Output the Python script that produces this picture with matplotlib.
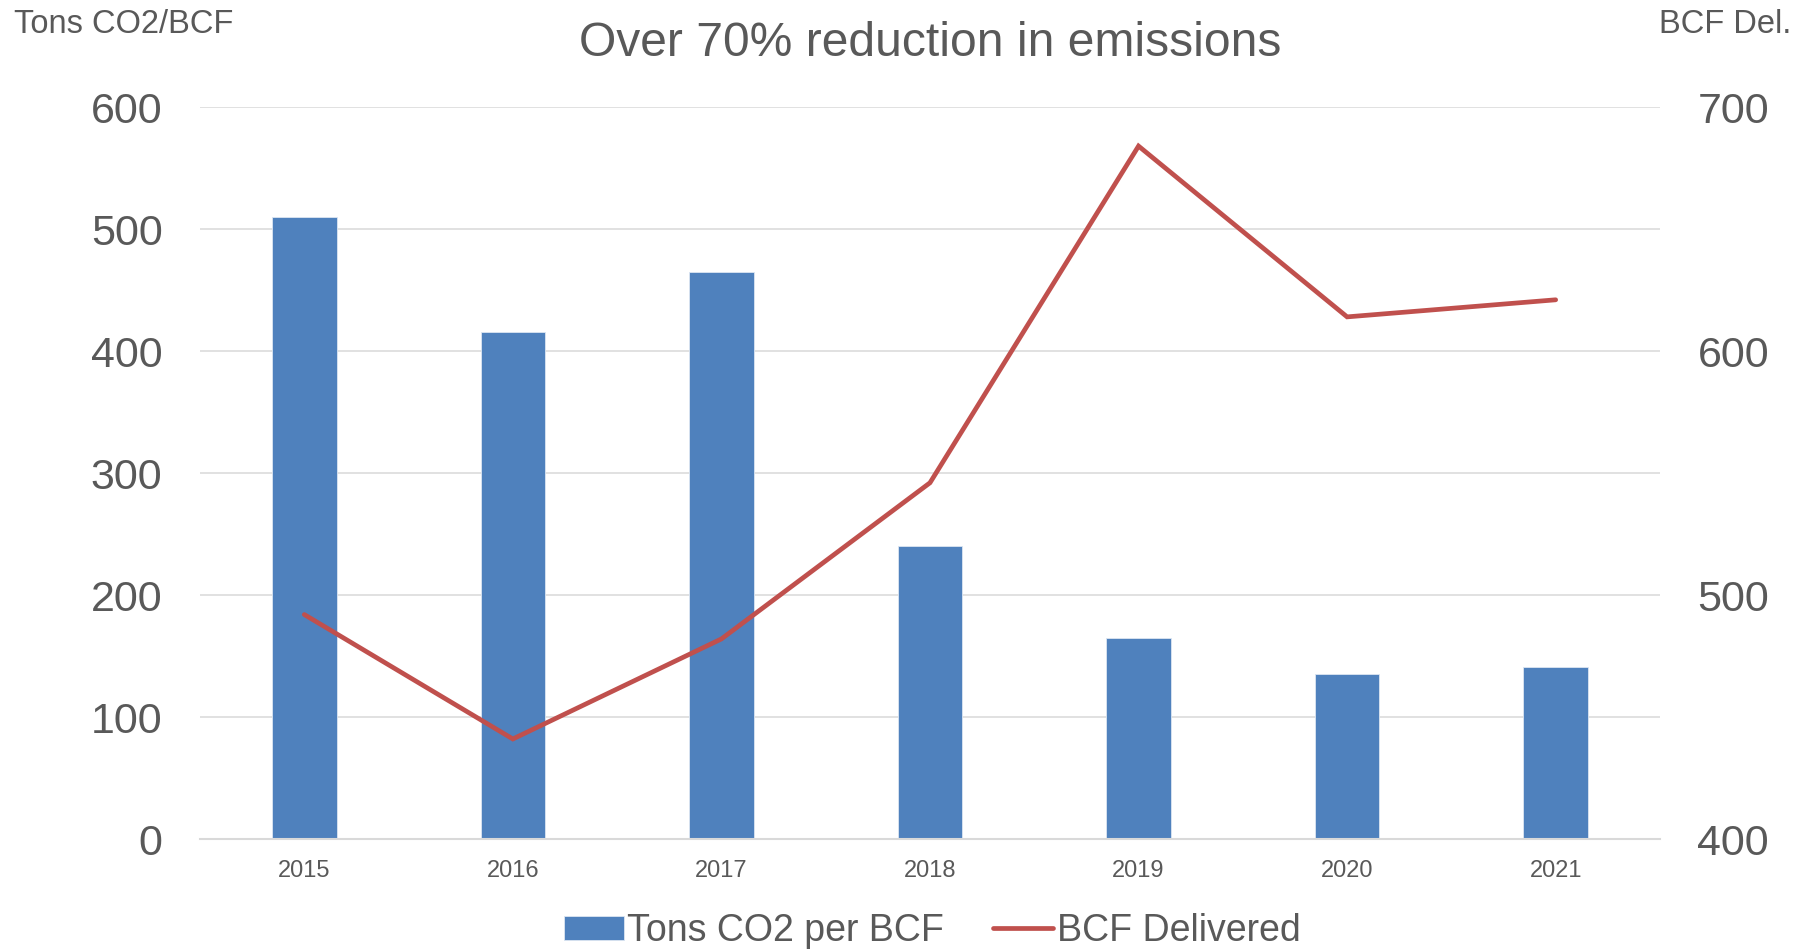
import numpy as np
import matplotlib.pyplot as plt

years = ["2015", "2016", "2017", "2018", "2019", "2020", "2021"]
tons_co2_per_bcf = [510, 416, 465, 240, 165, 135, 141]
bcf_delivered = [492, 441, 482, 546, 684, 614, 621]

left_ticks = [0, 100, 200, 300, 400, 500, 600]
right_ticks = [400, 500, 600, 700]

plt.rcParams['font.family'] = ['Liberation Sans', 'DejaVu Sans']
grey = '#595959'

fig = plt.figure(figsize=(18.10, 9.49), dpi=100)
ax = fig.add_axes([0.1105, 0.1159, 0.8066, 0.7713])
ax2 = ax.twinx()

x = np.arange(len(years))
ax.bar(x, tons_co2_per_bcf, width=0.31, color='#4F81BD', edgecolor='#DCE6F2',
       linewidth=0.6, label='Tons CO2 per BCF', zorder=2)
ax2.plot(x, bcf_delivered, color='#C0504D', lw=3.4, solid_capstyle='round',
         solid_joinstyle='miter', label='BCF Delivered', zorder=3)

ax.set_xlim(-0.5, len(years) - 0.5)
ax.set_ylim(0, 600)
ax2.set_ylim(400, 700)
ax.set_yticks(left_ticks)
ax2.set_yticks(right_ticks)
ax.set_xticks(x)
ax.set_xticklabels(years)

ax.grid(axis='y', color='#D9D9D9', lw=1.1, zorder=0)
ax.set_axisbelow(True)
for a in (ax, ax2):
    for s in a.spines.values():
        s.set_visible(False)
ax.spines['bottom'].set_visible(True)
ax.spines['bottom'].set_color('#D9D9D9')
ax.spines['bottom'].set_linewidth(1.5)

ax.tick_params(axis='y', length=0, pad=27, labelsize=31, labelcolor=grey)
ax2.tick_params(axis='y', length=0, pad=27, labelsize=31, labelcolor=grey)
ax.tick_params(axis='x', length=0, pad=15, labelsize=17, labelcolor=grey)

fig.text(0.5138, 0.9545, "Over 70% reduction in emissions", ha='center', va='center',
         fontsize=34.6, color=grey)
fig.text(0.0077, 0.991, "Tons CO2/BCF", ha='left', va='top', fontsize=23.5, color=grey)
fig.text(0.9895, 0.991, "BCF Del.", ha='right', va='top', fontsize=23.5, color=grey)

h1, l1 = ax.get_legend_handles_labels()
h2, l2 = ax2.get_legend_handles_labels()
fig.legend(h1 + h2, l1 + l2, loc='center', bbox_to_anchor=(0.515, 0.019), ncol=2,
           frameon=False, fontsize=27, labelcolor=grey, handlelength=1.6,
           handleheight=0.6, handletextpad=0.1, columnspacing=1.3)

fig.savefig('out.png', dpi=100)
